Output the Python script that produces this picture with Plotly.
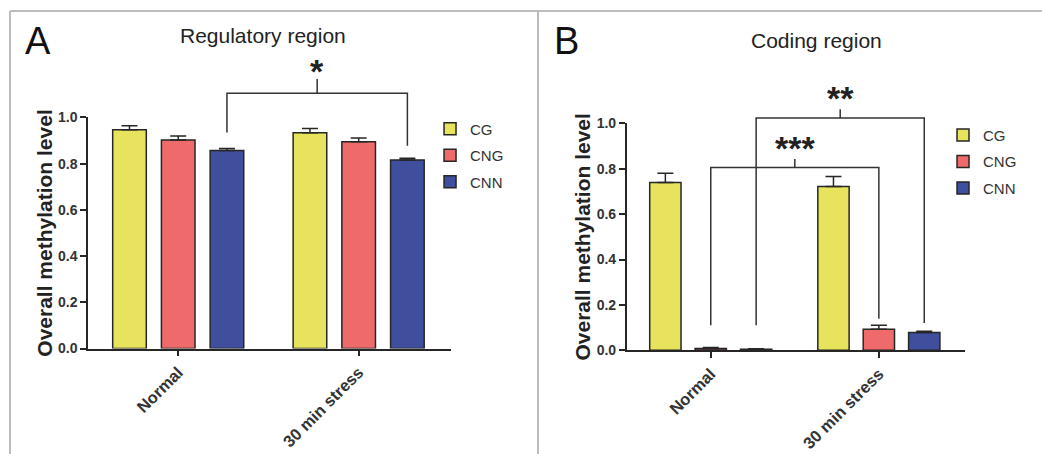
import plotly.graph_objects as go

# ---------------- data ----------------
groups = ["Normal", "30 min stress"]
series = ["CG", "CNG", "CNN"]

# Regulatory region (panel A): mean and upper SEM per group
reg_cg = [0.947, 0.934]
reg_cng = [0.902, 0.895]
reg_cnn = [0.857, 0.816]
reg_cg_err = [0.017, 0.018]
reg_cng_err = [0.018, 0.016]
reg_cnn_err = [0.009, 0.007]

# Coding region (panel B)
cod_cg = [0.740, 0.722]
cod_cng = [0.008, 0.092]
cod_cnn = [0.004, 0.078]
cod_cg_err = [0.040, 0.044]
cod_cng_err = [0.004, 0.018]
cod_cnn_err = [0.002, 0.006]

y_ticks = [0.0, 0.2, 0.4, 0.6, 0.8, 1.0]

# ---------------- style ----------------
colors = {"CG": "#E7E35C", "CNG": "#EF6B6B", "CNN": "#3F4F9E"}
ink = "#262626"
FONT = "Liberation Sans, Arial, sans-serif"
BARGAP = 0.19
BARGROUPGAP = 0.31
XR = [-0.5, 1.51]
YR = [0.0, 1.0]
W = 1042
# vertical placement helper (pixel row in the picture -> paper fraction)
PIX_BOTTOM, PIX_SPAN = 446.0, 439.0


def py(pix):
    return (PIX_BOTTOM - pix) / PIX_SPAN


def px(pix):
    return pix / W


panels = [
    dict(ax="x", ay="y", legend="legend",
         vals={"CG": reg_cg, "CNG": reg_cng, "CNN": reg_cnn},
         errs={"CG": reg_cg_err, "CNG": reg_cng_err, "CNN": reg_cnn_err}),
    dict(ax="x2", ay="y2", legend="legend2",
         vals={"CG": cod_cg, "CNG": cod_cng, "CNN": cod_cnn},
         errs={"CG": cod_cg_err, "CNG": cod_cng_err, "CNN": cod_cnn_err}),
]

xpos = list(range(len(groups)))

fig = go.Figure()
for p in panels:
    for s in series:
        fig.add_trace(go.Bar(
            x=xpos, y=p["vals"][s], name=s,
            xaxis=p["ax"], yaxis=p["ay"], legend=p["legend"], legendgroup=p["legend"] + s,
            marker=dict(color=colors[s], line=dict(color=ink, width=1.5)),
            error_y=dict(type="data", symmetric=False, array=p["errs"][s],
                         arrayminus=[0] * len(groups), color=ink, thickness=1.5, width=8),
        ))

# bar centre offsets within a group (barmode='group')
slot = (1 - BARGAP) / len(series)
offset = {s: (i - (len(series) - 1) / 2) * slot for i, s in enumerate(series)}


def xfrac(x):
    return (x - XR[0]) / (XR[1] - XR[0])


def yfrac(y):
    return (y - YR[0]) / (YR[1] - YR[0])


# significance brackets: (panel, series, left leg bottom, right leg bottom, bar level, tick top, label, label y)
brackets = [
    (0, "CNN", 0.935, 0.878, 1.105, 1.166, "*", 1.202),
    (1, "CNG", 0.110, 0.139, 0.806, 0.843, "***", 0.891),
    (1, "CNN", 0.110, 0.120, 1.024, 1.063, "**", 1.111),
]

shapes = []
annotations = []
for pi, s, yl, yr_, yb, yt, label, ylab in brackets:
    p = panels[pi]
    xl = xfrac(xpos[0] + offset[s])
    xr = xfrac(xpos[1] + offset[s])
    xm = (xl + xr) / 2
    path = (f"M{xl},{yfrac(yl)} L{xl},{yfrac(yb)} L{xr},{yfrac(yb)} L{xr},{yfrac(yr_)} "
            f"M{xm},{yfrac(yb)} L{xm},{yfrac(yt)}")
    shapes.append(dict(type="path", path=path, xref=p["ax"] + " domain", yref=p["ay"] + " domain",
                       line=dict(color="#333333", width=1.5)))
    annotations.append(dict(text=label, x=xm, y=yfrac(ylab), xref=p["ax"] + " domain",
                            yref=p["ay"] + " domain", showarrow=False, xanchor="center", yanchor="middle",
                            font=dict(family=FONT, size=34, color="#222222", weight="bold")))

# panel frames
frame_col = "#BDBDBD"
shapes += [
    dict(type="line", xref="paper", yref="paper", x0=px(10), x1=1.0, y0=py(10), y1=py(10),
         line=dict(color=frame_col, width=2)),
    dict(type="line", xref="paper", yref="paper", x0=px(10), x1=px(10), y0=-0.05, y1=py(10),
         line=dict(color=frame_col, width=2)),
    dict(type="line", xref="paper", yref="paper", x0=px(538), x1=px(538), y0=-0.05, y1=py(10),
         line=dict(color=frame_col, width=2)),
]

# titles and panel letters
txt = dict(xref="paper", yref="paper", showarrow=False, xanchor="center", yanchor="middle")
annotations += [
    dict(text="Regulatory region", x=px(263), y=py(35), font=dict(family=FONT, size=21, color="#222222"), **txt),
    dict(text="Coding region", x=px(816.7), y=py(40), font=dict(family=FONT, size=21, color="#222222"), **txt),
    dict(text="A", x=px(38), y=py(40), font=dict(family=FONT, size=38, color="#111111"), **txt),
    dict(text="B", x=px(566.5), y=py(40), font=dict(family=FONT, size=38, color="#111111"), **txt),
]

xaxis_common = dict(range=XR, tickvals=xpos, ticktext=groups, tickangle=-45, showline=True,
                    linecolor=ink, linewidth=1.5, ticks="outside", ticklen=6, tickwidth=1.5,
                    tickcolor=ink, showgrid=False, zeroline=False, fixedrange=True,
                    tickfont=dict(family=FONT, size=16.5, color="#333333", weight="bold"))
yaxis_common = dict(range=YR, tickvals=y_ticks, ticktext=[f"{v:.1f}" for v in y_ticks], showline=True,
                    linecolor=ink, linewidth=1.5, ticks="outside", ticklen=6, tickwidth=1.5,
                    tickcolor=ink, showgrid=False, zeroline=False, fixedrange=True,
                    tickfont=dict(family=FONT, size=14, color="#333333", weight="bold"),
                    title=dict(text="Overall methylation level", standoff=0,
                               font=dict(family=FONT, size=21, color="#222222", weight="bold")))

legend_common = dict(font=dict(family=FONT, size=15, color="#333333"), bgcolor="rgba(0,0,0,0)",
                     xanchor="left", yanchor="top", tracegroupgap=4, traceorder="grouped")

fig.update_layout(
    width=W, height=454,
    margin=dict(l=0, r=0, t=0, b=0),
    paper_bgcolor="white", plot_bgcolor="white",
    barmode="group", bargap=BARGAP, bargroupgap=BARGROUPGAP,
    xaxis=dict(domain=[px(88), px(450.7)], anchor="y", **xaxis_common),
    yaxis=dict(domain=[py(348.3), py(116.7)], anchor="x", **yaxis_common),
    xaxis2=dict(domain=[px(626.7), px(964.6)], anchor="y2", **xaxis_common),
    yaxis2=dict(domain=[py(350), py(122.7)], anchor="x2", **yaxis_common),
    legend=dict(x=0.4127, y=0.7615, **legend_common),
    legend2=dict(x=0.905, y=0.7471, **legend_common),
    shapes=shapes,
    annotations=annotations,
    showlegend=True,
)

fig.write_html("out.html", config={"displayModeBar": False},
               post_script="document.body.style.margin='0';document.body.style.overflow='hidden';")
